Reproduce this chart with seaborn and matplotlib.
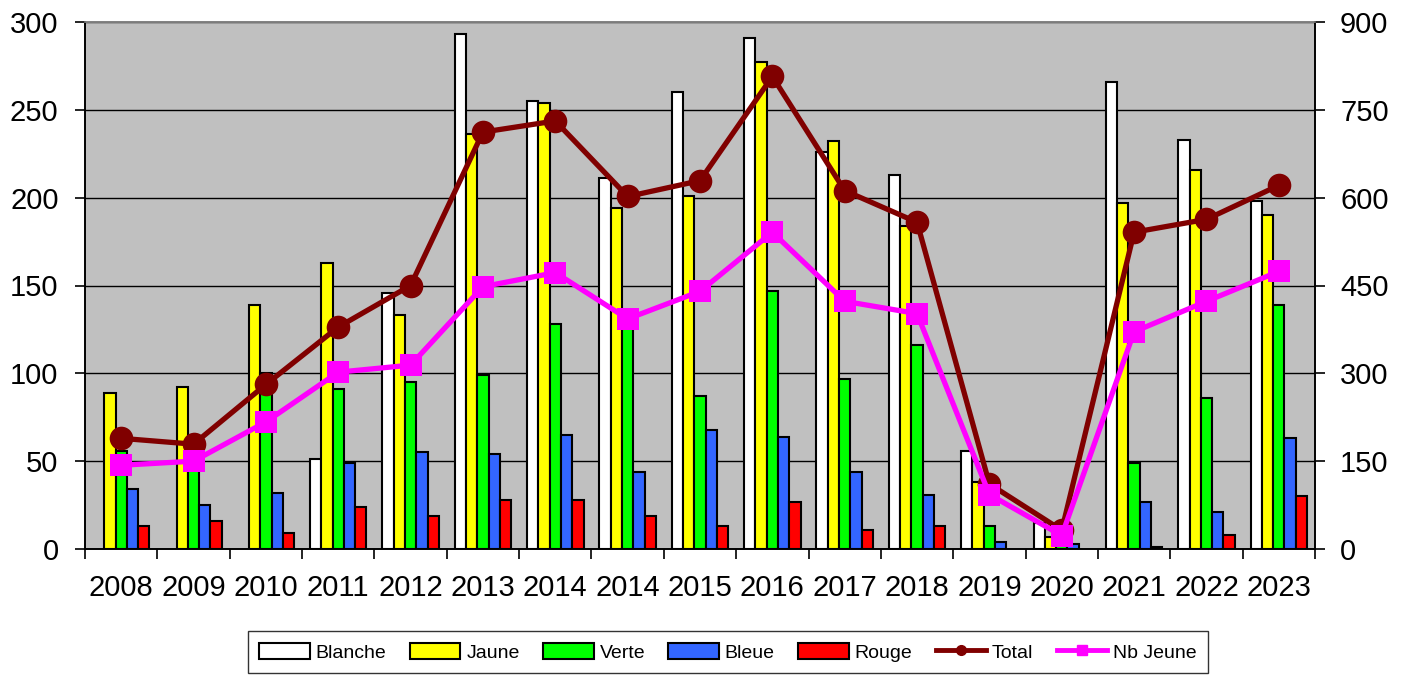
import numpy as np
import pandas as pd
import matplotlib
matplotlib.use("Agg")
import matplotlib.pyplot as plt
import seaborn as sns
from matplotlib.lines import Line2D
from matplotlib.patches import Patch
from matplotlib.font_manager import FontProperties

# ---- data ----
years = ["2008", "2009", "2010", "2011", "2012", "2013", "2014", "2014", "2015",
         "2016", "2017", "2018", "2019", "2020", "2021", "2022", "2023"]
blanche = [None, None, None, 51, 146, 293, 255, 211, 260, 291, 226, 213, 56, 15, 266, 233, 198]
jaune = [89, 92, 139, 163, 133, 236, 254, 194, 201, 277, 232, 184, 38, 7, 197, 216, 190]
verte = [56, 50, 100, 91, 95, 99, 128, 130, 87, 147, 97, 116, 13, 3, 49, 86, 139]
bleue = [34, 25, 32, 49, 55, 54, 65, 44, 68, 64, 44, 31, 4, 3, 27, 21, 63]
rouge = [13, 16, 9, 24, 19, 28, 28, 19, 13, 27, 11, 13, None, None, 1, 8, 30]
total = [189, 179, 281, 379, 450, 712, 731, 602, 629, 807, 612, 558, 111, 32, 541, 563, 621]
nb_jeune = [143, 150, 217, 302, 314, 448, 472, 393, 440, 541, 423, 402, 93, 23, 371, 423, 474]

series_names = ["Blanche", "Jaune", "Verte", "Bleue", "Rouge"]
series_vals = [blanche, jaune, verte, bleue, rouge]
colors = ["#FFFFFF", "#FFFF00", "#00FF00", "#3366FF", "#FF0000"]

plt.rcParams["font.family"] = ["Liberation Sans", "DejaVu Sans"]

idx = list(range(len(years)))
rows = []
for name, vals in zip(series_names, series_vals):
    for i, v in zip(idx, vals):
        rows.append({"idx": i, "serie": name, "value": np.nan if v is None else v})
df = pd.DataFrame(rows)

W, H = 1411, 680
fig = plt.figure(figsize=(W / 100, H / 100), dpi=100)
ax = fig.add_axes([85 / W, 1 - 549 / H, (1315 - 85) / W, (549 - 22) / H])
ax.set_facecolor("#C0C0C0")

sns.barplot(data=df, x="idx", y="value", hue="serie", hue_order=series_names,
            palette=colors, saturation=1, width=0.78, edgecolor="black",
            linewidth=1.5, ax=ax, legend=False, errorbar=None, zorder=2)

ax.set_xlim(-0.5, len(years) - 0.5)
ax.set_ylim(0, 300)
ax.set_yticks(range(0, 301, 50))
ax.yaxis.grid(True, color="black", lw=1)
ax.set_axisbelow(True)
ax.set_xlabel("")
ax.set_ylabel("")

ax.set_xticks(np.arange(-0.5, len(years), 1))
ax.set_xticklabels([])
ax.set_xticks(idx, minor=True)
ax.set_xticklabels(years, minor=True)
ax.tick_params(axis="x", which="major", length=7, width=1.2, direction="out")
ax.tick_params(axis="x", which="minor", length=0, pad=18, labelsize=21)
ax.tick_params(axis="y", length=7, width=1.2, labelsize=21, pad=12)

ax2 = ax.twinx()
sns.lineplot(x=idx, y=total, ax=ax2, color="#800000", lw=3.8, marker="o",
             markersize=17, markeredgewidth=0, zorder=5)
sns.lineplot(x=idx, y=nb_jeune, ax=ax2, color="#FF00FF", lw=3.8, marker="s",
             markersize=16, markeredgewidth=0, zorder=6)
ax2.set_ylim(0, 900)
ax2.set_yticks(range(0, 901, 150))
ax2.tick_params(axis="y", length=7, width=1.2, labelsize=21, pad=11)
ax2.set_ylabel("")
ax.set_xlim(-0.5, len(years) - 0.5)

for a in (ax, ax2):
    for s in a.spines.values():
        s.set_color("black")
        s.set_linewidth(1.2)
    a.spines["top"].set_color("#808080")

handles = [Patch(facecolor=c, edgecolor="black", lw=1.5) for c in colors]
handles.append(Line2D([], [], color="#800000", lw=3.5, marker="o", markersize=7))
handles.append(Line2D([], [], color="#FF00FF", lw=3.5, marker="s", markersize=7))
labels = series_names + ["Total", "Nb Jeune"]
fp = FontProperties(family=["Liberation Sans Narrow", "Liberation Sans"], size=14)
leg = fig.legend(handles, labels, loc="center", bbox_to_anchor=(0.516, 0.041),
                 ncol=7, frameon=True, fancybox=False, prop=fp,
                 handlelength=2.6, handleheight=0.9, columnspacing=1.2,
                 handletextpad=0.3, borderpad=0.6)
leg.get_frame().set_edgecolor("black")
leg.get_frame().set_linewidth(1)

fig.savefig("out.png", dpi=100)
